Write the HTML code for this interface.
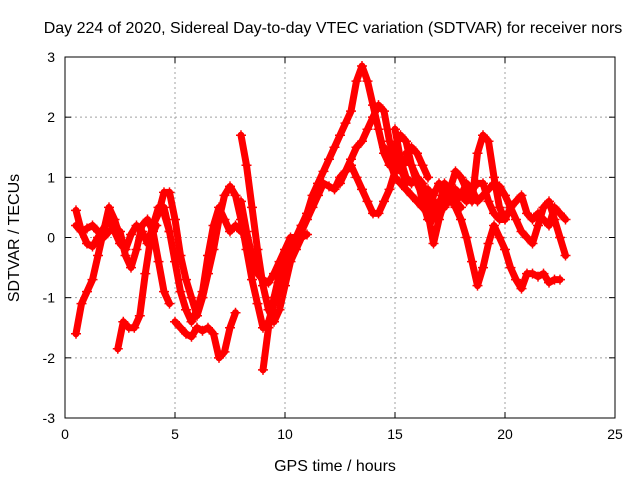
<!DOCTYPE html>
<html><head><meta charset="utf-8"><style>
body{margin:0;background:#fff}
svg text{font-family:"Liberation Sans",sans-serif;font-size:14px;fill:#000}
svg text.big{font-size:16px}
</style></head><body>
<svg id="chart" width="640" height="480" xmlns="http://www.w3.org/2000/svg">
<text class="big" x="333" y="33" text-anchor="middle">Day 224 of 2020, Sidereal Day-to-day VTEC variation (SDTVAR) for receiver nors</text>
<text class="big" x="335" y="471" text-anchor="middle">GPS time / hours</text>
<text class="big" transform="translate(19,238) rotate(-90)" text-anchor="middle">SDTVAR / TECUs</text>
<g id="grid"></g><g id="series"></g><g id="axes"></g>
</svg>
<script>
const xTicks=[0,5,10,15,20,25];
const yTicks=[-3,-2,-1,0,1,2,3];
const starts=[0.5,0.5,0.5,2.4,4.0,5.0,4.5,8.0,8.0,9.0,9.5,15,15.5,16.5,14.5,12.5];
const s0=[0.45,0.1,-0.1,-0.15,0.0,0.15,0.3,0.1,-0.1,-0.2,0.05,0.2,0.1,-0.1,0.2,0.5,0.4,0.1];
const s1=[0.2,0.1,0.15,0.2,0.1,0.0,0.1,0.15,0.1,-0.3,-0.5,-0.2,0.2,0.3,0.1,-0.4,-0.9,-1.1];
const s2=[-1.6,-1.1,-0.9,-0.7,-0.3,0.1,0.5,0.3,0.0];
const s3=[-1.85,-1.4,-1.5,-1.5,-1.3,-0.6,0.0,0.2];
const s4=[0.2,0.4,0.75,0.75,0.3,-0.3,-0.7,-1.0,-1.3,-1.0,-0.6,-0.2,0.3,0.7,0.85,0.7,0.3,-0.2,-0.7,-1.1,-1.5,-1.4,-1.1,-0.8,-0.5,-0.3];
const s5=[-1.4,-1.5,-1.6,-1.65,-1.5,-1.55,-1.5,-1.6,-2.0,-1.9,-1.5,-1.25];
const s6=[0.5,0.1,-0.4,-0.9,-1.2,-1.4,-1.2,-0.9,-0.3,0.2,0.5,0.3,0.1,0.2,0.1];
const s7=[1.7,1.2,0.5,-0.2,-0.8,-1.2,-1.4,-1.2,-0.8,-0.4,-0.2,0.0,0.05];
const s8=[0.6,0.1,-0.3,-0.6,-0.7,-0.75,-0.6,-0.4,-0.2,0.0,0.0,0.2];
const s9=[-2.2,-1.5,-1.0,-0.6,-0.3,-0.1,0.0,0.2,0.4,0.7,0.9,1.1,1.3,1.5,1.7,1.9,2.1,2.6,2.85,2.6,2.2,1.8,1.4,1.2,1.5,1.7,1.6,1.2,1.0,0.9,0.6,0.3,0.5,0.9,0.8,0.6,0.5];
const s10=[-1.0,-0.7,-0.4,-0.2,0.0,0.1,0.3,0.5,0.7,0.9,0.85,0.8,1.0,1.1,1.2,1.0,0.8,0.6,0.4,0.4,0.6,0.8,1.1,1.2,0.9];
const s11=[1.8,1.3,1.0,0.9,1.0,0.6,0.3,0.7,0.9,0.7,0.6,0.6,0.7,0.9,0.8,0.6,0.7,0.8,0.9,0.85,0.7,0.5,0.3,0.1,0.0,-0.1,0.2,0.5,0.6,0.3,0.0,-0.3];
const s12=[1.4,1.2,0.9,0.7,0.4,-0.1,0.3,0.6,0.8,1.1,1.0,0.8,0.6,1.4,1.7,1.6,1.0,0.5,0.3,0.5,0.6,0.7,0.4,0.3,0.4,0.3,0.2,0.5,0.4,0.3];
const s13=[0.8,0.6,0.5,0.6,0.7,0.5,0.3,0.0,-0.4,-0.8,-0.5,-0.1,0.2,0.0,-0.2,-0.5,-0.7,-0.85,-0.6,-0.6,-0.65,-0.6,-0.75,-0.7,-0.7];
const s14=[1.5,1.3,1.0,0.9,0.8,0.7,0.6,0.5,0.4,0.5,0.6,0.5,0.7,0.8,0.7,0.6,0.8,0.9,0.9,0.6,0.4,0.3,0.3];
const s15=[0.9,1.1,1.3,1.5,1.6,1.8,2.0,2.2,2.1,1.6,1.3,1.1,1.3,1.5,1.4,1.2,1.0];
const allSeries=[s0,s1,s2,s3,s4,s5,s6,s7,s8,s9,s10,s11,s12,s13,s14,s15];
const step=0.25;
const L=65,R=615,T=57,B=418;
const xs=t=>L+(t-0)/25*(R-L);
const ys=v=>B-(v+3)/6*(B-T);
const NS="http://www.w3.org/2000/svg";
function mk(tag,attrs,parent){const e=document.createElementNS(NS,tag);for(const k in attrs)e.setAttribute(k,attrs[k]);parent.appendChild(e);return e;}
const grid=document.getElementById('grid'),axes=document.getElementById('axes'),ser=document.getElementById('series');
xTicks.forEach(t=>{
 if(t>0&&t<25){const g=mk('line',{x1:xs(t),x2:xs(t),y1:T,y2:B,stroke:'#a0a0a0','stroke-dasharray':'2,3'},grid);
 
 }
 mk('line',{x1:xs(t),x2:xs(t),y1:B,y2:B-6,stroke:'#000'},axes);
 mk('line',{x1:xs(t),x2:xs(t),y1:T,y2:T+6,stroke:'#000'},axes);
 const tx=mk('text',{x:xs(t),y:B+21,'text-anchor':'middle'},axes);tx.textContent=t;
 
 
});
yTicks.forEach(v=>{
 if(v>-3&&v<3){const g=mk('line',{x1:L,x2:R,y1:ys(v),y2:ys(v),stroke:'#a0a0a0','stroke-dasharray':'2,3'},grid);
 
 }
 mk('line',{x1:L,x2:L+6,y1:ys(v),y2:ys(v),stroke:'#000'},axes);
 mk('line',{x1:R,x2:R-6,y1:ys(v),y2:ys(v),stroke:'#000'},axes);
 const tx=mk('text',{x:L-10,y:ys(v)+5,'text-anchor':'end'},axes);tx.textContent=v;
 
 
});
const box=mk('rect',{x:L,y:T,width:R-L,height:B-T,fill:'none',stroke:'#000','stroke-width':1},axes);


allSeries.forEach((vals,i)=>{
 const pts=vals.map((v,j)=>[xs(starts[i]+j*step),ys(v)]);
 const pl=mk('polyline',{points:pts.map(p=>p.join(',')).join(' '),fill:'none',stroke:'#ff0000','stroke-width':7,'stroke-linejoin':'round','stroke-linecap':'round'},ser);
 
 
 pts.forEach(p=>{
  const m=mk('path',{d:`M${p[0]-5},${p[1]}h10M${p[0]},${p[1]-5}v10`,stroke:'#ff0000','stroke-width':1.5},ser);
  
  
 });
});
</script>
</body></html>
